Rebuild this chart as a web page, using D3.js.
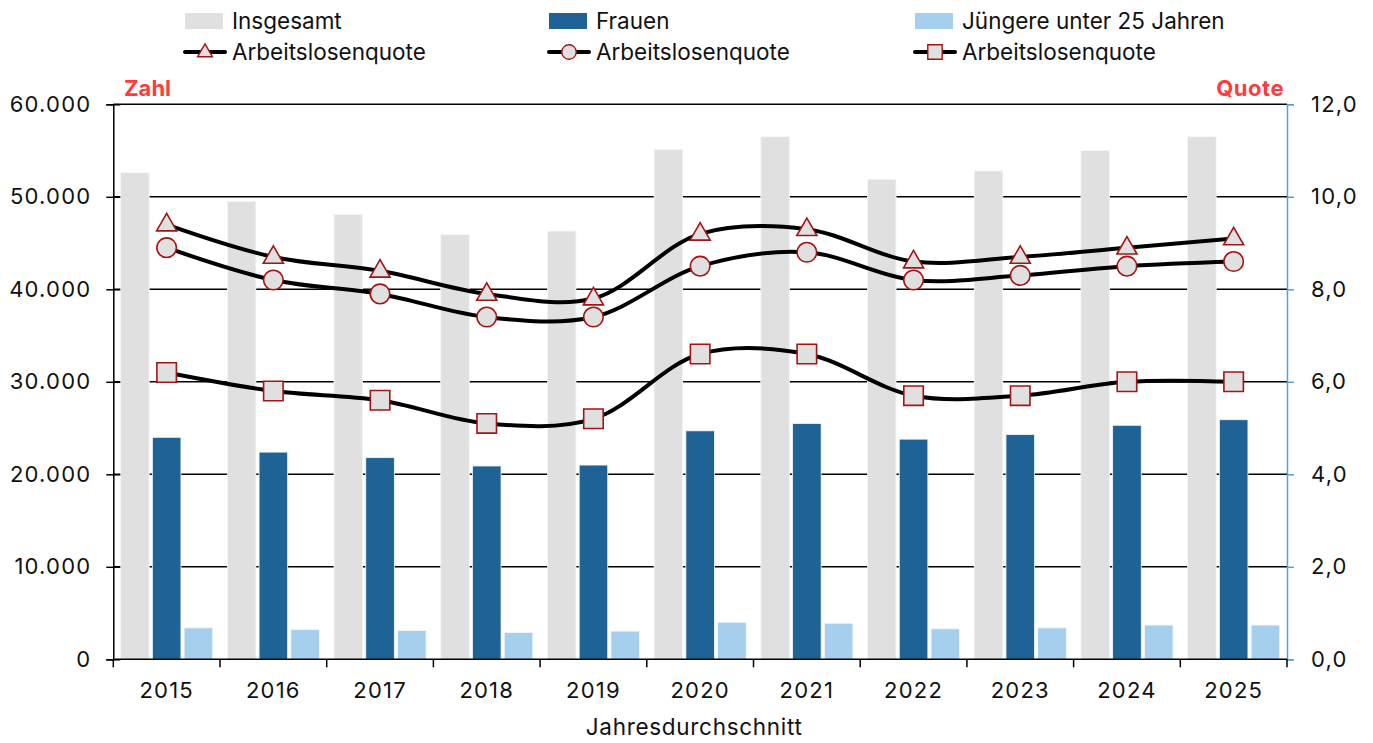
<!DOCTYPE html>
<html>
<head>
<meta charset="utf-8">
<script src="https://cdn.jsdelivr.net/npm/d3@7"></script>
<style>
  body { margin: 0; background: #fff; }
  text { font-family: Inter, "Liberation Sans", sans-serif; }
</style>
</head>
<body>
<script>
// data
var years = ["2015", "2016", "2017", "2018", "2019", "2020", "2021", "2022", "2023", "2024", "2025"];
var insgesamt = [52600, 49500, 48100, 45900, 46300, 55100, 56500, 51900, 52800, 55000, 56500];
var frauen = [24000, 22400, 21800, 20900, 21000, 24700, 25500, 23800, 24300, 25300, 25900];
var juengere = [3400, 3200, 3100, 2900, 3050, 4000, 3900, 3300, 3400, 3700, 3700];
var quoteTri = [9.4, 8.7, 8.4, 7.9, 7.8, 9.2, 9.3, 8.6, 8.7, 8.9, 9.1];
var quoteCirc = [8.9, 8.2, 7.9, 7.4, 7.4, 8.5, 8.8, 8.2, 8.3, 8.5, 8.6];
var quoteSq = [6.2, 5.8, 5.6, 5.1, 5.2, 6.6, 6.6, 5.7, 5.7, 6.0, 6.0];
var leftTicks = [0, 10000, 20000, 30000, 40000, 50000, 60000];
var rightTicks = [0, 2, 4, 6, 8, 10, 12];

const width = 1373, height = 743;
const plotLeft = 113.3, plotRight = 1287, plotTop = 104.3, plotBottom = 659.3;

var de = d3.formatLocale({ decimal: ",", thousands: ".", grouping: [3], currency: ["", " €"] });
var fmtL = de.format(",.0f"), fmtR = de.format(".1f");

var svg = d3.select("body").append("svg")
    .attr("width", width)
    .attr("height", height);

var x0 = d3.scaleBand().domain(years).range([plotLeft, plotRight]);
var barSeries = [
    { name: "Insgesamt", values: insgesamt, color: "#e0e0e0" },
    { name: "Frauen", values: frauen, color: "#1f6396" },
    { name: "Jüngere unter 25 Jahren", values: juengere, color: "#a6cfee" }
];
var x1 = d3.scaleBand().domain(barSeries.map(d => d.name))
    .range([7.3, x0.bandwidth() - 7.3]).paddingInner(0.1);
var yL = d3.scaleLinear().domain([0, 60000]).range([plotBottom, plotTop]);
var yR = d3.scaleLinear().domain([0, 12]).range([plotBottom, plotTop]);

// gridlines
svg.append("g").selectAll("line")
    .data(leftTicks.slice(1))
    .enter().append("line")
    .attr("x1", plotLeft).attr("x2", plotRight)
    .attr("y1", d => yL(d)).attr("y2", d => yL(d))
    .attr("stroke", "#000").attr("stroke-width", 1.5);

// bars
barSeries.forEach(function (s) {
    svg.append("g").selectAll("rect")
        .data(s.values)
        .enter().append("rect")
        .attr("x", (d, i) => x0(years[i]) + x1(s.name))
        .attr("width", x1.bandwidth())
        .attr("y", d => yL(d))
        .attr("height", d => plotBottom - yL(d))
        .attr("fill", s.color)
        .attr("stroke", "#f4f8fb")
        .attr("stroke-width", 0.8);
});

// axes
var axL = svg.append("g").attr("transform", "translate(" + plotLeft + ",0)")
    .call(d3.axisLeft(yL).tickValues(leftTicks).tickFormat(fmtL).tickSize(7).tickPadding(15));
axL.selectAll(".tick line").attr("x1", 7).attr("stroke", "#000").attr("stroke-width", 1.5);
axL.select(".domain").attr("stroke", "#000").attr("stroke-width", 1.5);

var axR = svg.append("g").attr("transform", "translate(" + plotRight + ",0)")
    .call(d3.axisRight(yR).tickValues(rightTicks).tickFormat(fmtR).tickSize(7).tickPadding(17));
axR.selectAll(".tick line").attr("stroke", "#4fa3d6").attr("stroke-width", 1.5);
axR.select(".domain").attr("stroke", "#4fa3d6").attr("stroke-width", 1.5);

[axL, axR].forEach(function (ax) {
    ax.attr("font-family", null).attr("font-size", null);
    ax.selectAll(".tick text").attr("font-size", 22).attr("fill", "#111")
        .attr("letter-spacing", 1.2);
});

// x axis
var axB = svg.append("g").attr("transform", "translate(0," + plotBottom + ")");
axB.append("line").attr("x1", plotLeft).attr("x2", plotRight)
    .attr("stroke", "#000").attr("stroke-width", 1.5);
axB.selectAll(".btick")
    .data(years.map(y => x0(y)).concat([plotRight]))
    .enter().append("line")
    .attr("x1", d => d).attr("x2", d => d)
    .attr("y1", 0).attr("y2", 8)
    .attr("stroke", "#000").attr("stroke-width", 1.5);
axB.selectAll(".blabel")
    .data(years)
    .enter().append("text")
    .attr("x", d => x0(d) + x0.bandwidth() / 2)
    .attr("y", 39)
    .attr("text-anchor", "middle")
    .attr("font-size", 22)
    .attr("letter-spacing", 1.2)
    .attr("fill", "#111")
    .text(d => d);

svg.append("text").attr("x", (plotLeft + plotRight) / 2 - 6).attr("y", 735)
    .attr("text-anchor", "middle").attr("font-size", 22.5).attr("letter-spacing", 0.7)
    .attr("fill", "#111")
    .text("Jahresdurchschnitt");

svg.append("text").attr("x", 124).attr("y", 96)
    .attr("font-size", 22).attr("font-weight", 700).attr("fill", "#ff3b3b")
    .text("Zahl");
svg.append("text").attr("x", 1284).attr("y", 96).attr("text-anchor", "end")
    .attr("font-size", 22).attr("font-weight", 700).attr("letter-spacing", 0.5).attr("fill", "#ff3b3b")
    .text("Quote");

// lines
var lineSeries = [
    { values: quoteTri, symbol: d3.symbolTriangle, size: 175, dy: 0.5 },
    { values: quoteCirc, symbol: d3.symbolCircle, size: 300, dy: 0 },
    { values: quoteSq, symbol: d3.symbolSquare, size: 380, dy: 0 }
];
var line = d3.line()
    .x((d, i) => x0(years[i]) + x0.bandwidth() / 2)
    .y(d => yR(d))
    .curve(d3.curveCatmullRom.alpha(0.5));

lineSeries.forEach(function (s) {
    svg.append("path")
        .datum(s.values)
        .attr("d", line)
        .attr("fill", "none")
        .attr("stroke", "#000")
        .attr("stroke-width", 4);
});
lineSeries.forEach(function (s) {
    svg.append("g").selectAll("path")
        .data(s.values)
        .enter().append("path")
        .attr("d", d3.symbol().type(s.symbol).size(s.size))
        .attr("transform", (d, i) => "translate(" + (x0(years[i]) + x0.bandwidth() / 2) + "," + (yR(d) + s.dy) + ")")
        .attr("fill", "#e0e0e0")
        .attr("stroke", "#a31414")
        .attr("stroke-width", 1.6);
});

// legend
var legCols = [185, 549, 915];
var leg = svg.append("g");
barSeries.forEach(function (s, i) {
    leg.append("rect").attr("x", legCols[i]).attr("y", 13).attr("width", 38).attr("height", 16)
        .attr("fill", s.color);
    leg.append("text").attr("x", legCols[i] + 47).attr("y", 29)
        .attr("font-size", 22.5).attr("fill", "#111").text(s.name);
});
lineSeries.forEach(function (s, i) {
    leg.append("line").attr("x1", legCols[i]).attr("x2", legCols[i] + 40)
        .attr("y1", 52).attr("y2", 52)
        .attr("stroke", "#000").attr("stroke-width", 4).attr("stroke-linecap", "round");
    leg.append("path")
        .attr("d", d3.symbol().type(s.symbol).size(s.size * 0.55))
        .attr("transform", "translate(" + (legCols[i] + 20) + "," + (52 + s.dy) + ")")
        .attr("fill", "#e0e0e0").attr("stroke", "#a31414").attr("stroke-width", 1.4);
    leg.append("text").attr("x", legCols[i] + 47).attr("y", 60)
        .attr("font-size", 22.5).attr("fill", "#111").text("Arbeitslosenquote");
});
</script>
</body>
</html>
